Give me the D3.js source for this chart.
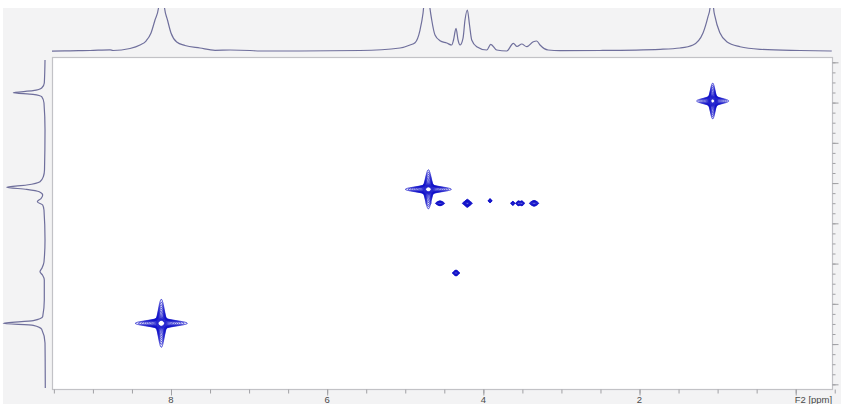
<!DOCTYPE html>
<html><head><meta charset="utf-8">
<script src="https://cdn.jsdelivr.net/npm/d3@7"></script>
<style>html,body{margin:0;padding:0;background:#fff;} svg{display:block}</style>
</head><body>
<svg id="c" width="841" height="404"></svg>
<script>
// ---- 2D cross peaks (F2 ppm, F1 units, amplitude, line widths) ----
const crossF2  = [8.124, 4.704, 1.063, 4.555, 4.205, 3.914, 3.623, 3.550, 3.508, 3.350, 4.350];
const crossF1  = [7.484, 4.155, 1.961, 4.503, 4.503, 4.439, 4.503, 4.503, 4.503, 4.503, 6.234];
const crossAmp = [150,   120,   80,    5,     12,    2.6,   2.6,   3,     3,     5,     5];
const crossWF2 = [0.0273,0.0270,0.0230,0.0250,0.0190,0.0128,0.0128,0.0154,0.0154,0.0250,0.0190];
const crossWF1 = [0.0489,0.0445,0.0500,0.0250,0.0300,0.0250,0.0250,0.0300,0.0300,0.0300,0.0300];

// ---- F2 projection (top) ----
const topF2  = [9.524,9.293,9.037,8.781,8.743,8.525,8.397,8.320,8.256,8.205,8.160,8.122,8.083,8.045,8.000,7.927,7.821,7.629,7.436,7.244,6.988,6.860,6.348,5.579,5.067,4.939,4.875,4.811,4.772,4.725,4.689,4.661,4.619,4.555,4.469,4.405,4.382,4.350,4.324,4.299,4.260,4.235,4.205,4.177,4.149,4.085,3.957,3.905,3.829,3.700,3.616,3.569,3.508,3.444,3.360,3.316,3.274,3.171,3.018,2.506,1.737,1.481,1.315,1.187,1.123,1.097,1.075,1.052,1.033,0.969,0.883,0.713,0.456,-0.056,-0.462];
const topInt = [0.7,1.6,2.3,3.9,2.3,6.9,14.9,24.1,42.5,72.4,100,180,100,72.4,42.5,21.8,13.8,8.0,2.8,3.4,2.3,1.1,1.1,2.3,8.0,14.9,20.2,49.4,88.5,180,107,72.4,37.9,24.8,19.5,14.9,26.4,53.3,26.4,14.9,31.0,72.4,95.4,60.9,26.4,11.0,3.4,16.6,3.4,1.1,18.9,11.5,17.2,11.0,22.5,24.1,14.9,3.4,1.8,2.3,5.1,8.0,14.9,42.5,80,100,180,100,80,42.5,22.5,11.0,5.1,2.3,1.1];

// ---- F1 projection (left) ----
const leftF1  = [0.943,1.514,1.638,1.705,1.755,1.795,1.854,2.011,2.682,3.675,3.842,3.966,4.048,4.105,4.155,4.215,4.297,4.384,4.463,4.545,4.669,5.415,5.961,6.110,6.202,6.284,6.408,6.905,7.320,7.419,7.484,7.534,7.633,7.973,9.091];
const leftInt = [-1.3,0.5,7.1,29.1,79.0,29.1,7.1,1.3,-1.3,0,3.0,11.4,45.1,95.7,45.1,13.2,4.6,8.9,18.2,4.6,1.3,-1.3,1.3,6.3,11.4,5.1,0.5,0.5,4.6,28.4,104.3,28.4,7.1,-1.3,-2.0];

// ---- axis ticks ----
const f2LabelPos = [8, 6, 4, 2, 0];
const f2Labels   = ["8", "6", "4", "2", "F2 [ppm]"];
const f2MinorTicks = d3.range(-0.5, 9.51, 0.5);
const f1MajorTicks = d3.range(1, 10, 1);
const f1MinorTicks = d3.range(1, 9.01, 0.25);

const svg = d3.select("#c");
const P = {x0: 52, x1: 832, y0: 57, y1: 389};
const x = d3.scaleLinear().domain([9.524, -0.465]).range([P.x0, P.x1]);
const y = d3.scaleLinear().domain([0.868, 9.116]).range([P.y0, P.y1]);
const topY  = d3.scaleLinear().domain([0, 100]).range([51.5, 8]);
const leftX = d3.scaleLinear().domain([0, 100]).range([44.5, 5]);

// background
svg.append("rect").attr("x", 3).attr("y", 8).attr("width", 838).attr("height", 396).attr("fill", "#f3f3f4");

const defs = svg.append("defs");
defs.append("clipPath").attr("id", "topclip").append("rect").attr("x", 0).attr("y", 8).attr("width", 841).attr("height", 49);
defs.append("clipPath").attr("id", "plotclip").append("rect").attr("x", P.x0).attr("y", P.y0).attr("width", P.x1 - P.x0).attr("height", P.y1 - P.y0);

// plot frame
svg.append("rect").attr("x", P.x0 + 0.5).attr("y", P.y0 + 0.5).attr("width", P.x1 - P.x0).attr("height", P.y1 - P.y0)
  .attr("fill", "#fff").attr("stroke", "#c2c2c6").attr("stroke-width", 1.2);

// projections
const projColor = "#6f6f9c";
svg.append("path").attr("clip-path", "url(#topclip)")
  .datum(topF2.map((d, i) => [d, topInt[i]]))
  .attr("fill", "none").attr("stroke", projColor).attr("stroke-width", 1.2)
  .attr("d", d3.line().x(d => x(d[0])).y(d => topY(d[1])).curve(d3.curveMonotoneX));

svg.append("path")
  .datum(leftF1.map((d, i) => [d, leftInt[i]]))
  .attr("fill", "none").attr("stroke", projColor).attr("stroke-width", 1.2)
  .attr("d", d3.line().y(d => y(d[0])).x(d => leftX(d[1])).curve(d3.curveMonotoneY));

// 2D contours: cross-shaped peak shape (Lorentzian along the arm, Gaussian across it)
const armSpread = 1.3;
const step = 0.5;
const nx = Math.round((P.x1 - P.x0) / step), ny = Math.round((P.y1 - P.y0) / step);
const grid = new Float64Array(nx * ny);
crossF2.forEach((f2, k) => {
  const cx = x(f2), cy = y(crossF1[k]), A = crossAmp[k];
  const wx = Math.abs(x(f2 + crossWF2[k]) - cx), wy = Math.abs(y(crossF1[k] + crossWF1[k]) - cy);
  const hx = wx * Math.sqrt(2 * A / 0.3) + 4, hy = wy * Math.sqrt(2 * A / 0.3) + 4;
  const i0 = Math.max(0, Math.floor((cx - hx - P.x0) / step)), i1 = Math.min(nx - 1, Math.ceil((cx + hx - P.x0) / step));
  const j0 = Math.max(0, Math.floor((cy - hy - P.y0) / step)), j1 = Math.min(ny - 1, Math.ceil((cy + hy - P.y0) / step));
  for (let j = j0; j <= j1; j++) {
    const py = P.y0 + (j + 0.5) * step, v = (py - cy) / wy, vs = v / armSpread;
    const Lv = 1 / (1 + v * v), Gv = Math.exp(-vs * vs);
    for (let i = i0; i <= i1; i++) {
      const px = P.x0 + (i + 0.5) * step, u = (px - cx) / wx, us = u / armSpread;
      const Lu = 1 / (1 + u * u), Gu = Math.exp(-us * us);
      grid[j * nx + i] += A * (Lu * Gv + Gu * Lv);
    }
  }
});
const levels = d3.range(0, 18).map(i => Math.pow(1.3, i));
const contours = d3.contours().size([nx, ny]).thresholds(levels)(grid);
const gpath = d3.geoPath(d3.geoIdentity().scale(step).translate([P.x0, P.y0]));
svg.append("g").attr("clip-path", "url(#plotclip)")
  .selectAll("path").data(contours).join("path")
  .attr("d", gpath).attr("fill", "none")
  .attr("stroke", "#0c0cc8").attr("stroke-width", 0.8).attr("stroke-linejoin", "round");

// right axis (F1)
const tickColor = "#a0a0a4";
const rMinor = svg.append("g").attr("transform", `translate(${P.x1 + 0.5},0)`)
  .call(d3.axisRight(y).tickValues(f1MinorTicks).tickSize(3).tickFormat(""));
const rMajor = svg.append("g").attr("transform", `translate(${P.x1 + 0.5},0)`)
  .call(d3.axisRight(y).tickValues(f1MajorTicks).tickSize(6).tickFormat(""));
[rMinor, rMajor].forEach(g => { g.select(".domain").remove(); g.selectAll("line").attr("stroke", tickColor); });

// bottom axis (F2)
const bMinor = svg.append("g").attr("transform", `translate(0,${P.y1 + 0.5})`)
  .call(d3.axisBottom(x).tickValues(f2MinorTicks).tickSize(4).tickFormat(""));
const bMajor = svg.append("g").attr("transform", `translate(0,${P.y1 + 0.5})`)
  .call(d3.axisBottom(x).tickValues(f2LabelPos).tickSize(6).tickFormat(""));
[bMinor, bMajor].forEach(g => { g.select(".domain").remove(); g.selectAll("line").attr("stroke", tickColor); });

svg.append("g").selectAll("text").data(f2LabelPos).join("text")
  .attr("x", (d, i) => i === f2LabelPos.length - 1 ? x(d) - 1 : x(d))
  .attr("y", 403)
  .attr("text-anchor", (d, i) => i === f2LabelPos.length - 1 ? "start" : "middle")
  .attr("font-family", "'Liberation Sans Narrow', 'Liberation Sans', sans-serif")
  .attr("font-size", 9.5).attr("fill", "#4a4a4a")
  .text((d, i) => f2Labels[i]);
</script>
</body></html>
